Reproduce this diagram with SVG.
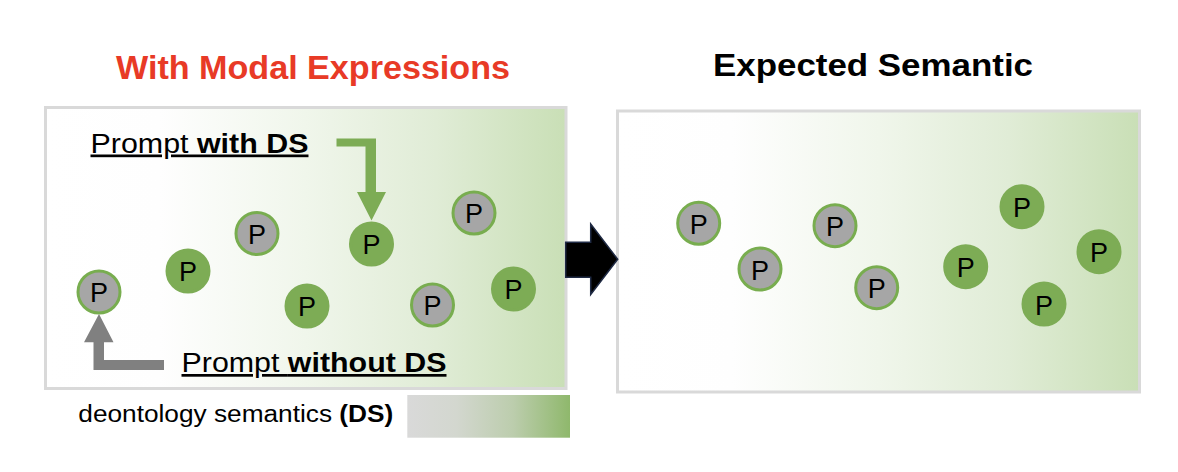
<svg xmlns="http://www.w3.org/2000/svg" width="1178" height="472" viewBox="0 0 1178 472">
<defs>
<linearGradient id="boxGrad" x1="0" y1="0" x2="1" y2="0">
<stop offset="0" stop-color="#ffffff"/>
<stop offset="0.22" stop-color="#fefefe"/>
<stop offset="0.5" stop-color="#f0f6eb"/>
<stop offset="0.75" stop-color="#e0ecd6"/>
<stop offset="1" stop-color="#c9dfb6"/>
</linearGradient>
<linearGradient id="legGrad" x1="0" y1="0" x2="1" y2="0">
<stop offset="0" stop-color="#d9d9d9"/>
<stop offset="0.3" stop-color="#d3d7cf"/>
<stop offset="0.65" stop-color="#bccdad"/>
<stop offset="1" stop-color="#8fb86c"/>
</linearGradient>
<style>
.box{fill:url(#boxGrad);stroke:#d9d9d9;stroke-width:3}
.pg{fill:#a6a6a6;stroke:#78ad4f;stroke-width:3}
.pn{fill:#7dac55;stroke:#7dac55;stroke-width:3}
.pl{font-family:"Liberation Sans",Arial,sans-serif;font-size:27px;fill:#000;text-anchor:middle}
.lbl{font-family:"Liberation Sans",Arial,sans-serif;fill:#000}
.ttl{font-family:"Liberation Sans",Arial,sans-serif;font-weight:bold}
</style>
</defs>
<rect width="1178" height="472" fill="#ffffff"/>

<text class="ttl" x="116" y="79.3" font-size="34" fill="#e83a26" textLength="394" lengthAdjust="spacingAndGlyphs">With Modal Expressions</text>
<text class="ttl" x="713" y="75.5" font-size="31" fill="#000000" textLength="320" lengthAdjust="spacingAndGlyphs">Expected Semantic</text>

<g id="left-panel">
<rect class="box" x="45.5" y="107.5" width="520.5" height="281"/>
</g>
<g id="right-panel">
<rect class="box" x="617.5" y="111" width="522" height="281"/>
</g>

<g id="label-with-ds">
<text class="lbl" x="90.5" y="152.5" font-size="27" text-decoration="underline" textLength="218" lengthAdjust="spacingAndGlyphs">Prompt <tspan font-weight="bold">with DS</tspan></text>
</g>
<g id="label-without-ds">
<text class="lbl" x="181.5" y="372" font-size="27" text-decoration="underline" textLength="265" lengthAdjust="spacingAndGlyphs">Prompt <tspan font-weight="bold">without DS</tspan></text>
</g>

<g id="L1"><circle class="pg" cx="99" cy="292" r="21"/><text class="pl" x="99" y="302">P</text></g>
<g id="L2"><circle class="pn" cx="188" cy="271" r="21"/><text class="pl" x="188" y="281">P</text></g>
<g id="L3"><circle class="pg" cx="257" cy="233.5" r="21"/><text class="pl" x="257" y="243.5">P</text></g>
<g id="L4"><circle class="pn" cx="371.5" cy="244" r="21"/><text class="pl" x="371.5" y="254">P</text></g>
<g id="L5"><circle class="pg" cx="474" cy="213" r="21"/><text class="pl" x="474" y="223">P</text></g>
<g id="L6"><circle class="pn" cx="307" cy="306" r="21"/><text class="pl" x="307" y="316">P</text></g>
<g id="L7"><circle class="pg" cx="432.5" cy="305" r="21"/><text class="pl" x="432.5" y="315">P</text></g>
<g id="L8"><circle class="pn" cx="513.5" cy="289" r="21"/><text class="pl" x="513.5" y="299">P</text></g>

<g id="R1"><circle class="pg" cx="698.7" cy="223.3" r="21"/><text class="pl" x="698.7" y="233.8">P</text></g>
<g id="R2"><circle class="pg" cx="760" cy="269" r="21"/><text class="pl" x="760" y="279.5">P</text></g>
<g id="R3"><circle class="pg" cx="835" cy="225.7" r="21"/><text class="pl" x="835" y="236.2">P</text></g>
<g id="R4"><circle class="pg" cx="876.7" cy="287.7" r="21"/><text class="pl" x="876.7" y="298.2">P</text></g>
<g id="R5"><circle class="pn" cx="965.7" cy="266.7" r="21"/><text class="pl" x="965.7" y="277.2">P</text></g>
<g id="R6"><circle class="pn" cx="1022" cy="206.7" r="21"/><text class="pl" x="1022" y="217.2">P</text></g>
<g id="R7"><circle class="pn" cx="1044" cy="304" r="21"/><text class="pl" x="1044" y="314.5">P</text></g>
<g id="R8"><circle class="pn" cx="1099" cy="251.7" r="21"/><text class="pl" x="1099" y="262.2">P</text></g>

<g id="connectors">
<path d="M336.5,138.5 H376 V192 H386 L371.5,220.5 L357,192 H365.5 V146.5 H336.5 Z" fill="#7dac55"/>
<path d="M164,360 V370 H93.5 V342.3 H84 L99,314 L113.5,342.3 H104 V360 Z" fill="#808080"/>
<path d="M565.7,242.3 H590.7 V224 L617.7,259.3 L590.7,294.5 V277.3 H565.7 Z" fill="#000000" stroke="#1f2a44" stroke-width="1.5" stroke-linejoin="miter"/>
</g>

<g id="legend">
<text class="lbl" x="78.3" y="421.7" font-size="23" textLength="315" lengthAdjust="spacingAndGlyphs">deontology semantics <tspan font-weight="bold">(DS)</tspan></text>
<rect x="407.3" y="395" width="162.7" height="42.7" fill="url(#legGrad)"/>
</g>
</svg>
